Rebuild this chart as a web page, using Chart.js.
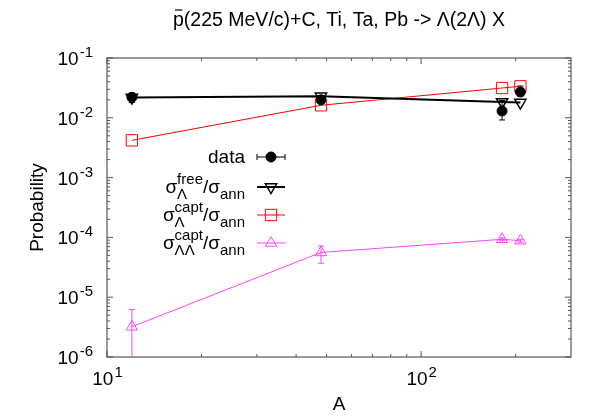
<!DOCTYPE html>
<html><head><meta charset="utf-8">
<script src="https://cdn.jsdelivr.net/npm/chart.js@4.4.0/dist/chart.umd.min.js"></script>
<style>html,body{margin:0;padding:0;background:#fff}canvas{display:block}</style>
</head><body>
<canvas id="c" width="600" height="420"></canvas>
<script>
// ---- data ----
const massNumbers = [12, 48, 181, 207];
const dataVals  = [0.022, 0.020, 0.013, 0.027];
const dataLow   = [0.018, 0.018, 0.0092, 0.023];
const dataHigh  = [0.026, 0.022, 0.0195, 0.034];
const freeVals  = [0.0218, 0.0229, 0.0184, 0.0180];
const captVals  = [0.0042, 0.0162, 0.0315, 0.0336];
const captLLVals = [3.2e-6, 5.6e-5, 9.3e-5, 8.8e-5];
const captLLLow  = [5e-7, 3.7e-5, 8.8e-5, 8.3e-5];
const captLLHigh = [6.2e-6, 7.2e-5, 9.8e-5, 9.3e-5];
const xMajorTicks = [10, 100];
const xTickExp = ['1', '2'];
const yMajorTicks = [1e-6, 1e-5, 1e-4, 1e-3, 1e-2, 1e-1];
const yTickExp = ['-6', '-5', '-4', '-3', '-2', '-1'];
const titleText = 'p(225 MeV/c)+C, Ti, Ta, Pb -> \u039B(2\u039B) X'; // leading p carries a bar (p̄), drawn as an overline
const xTitle = 'A';
const yTitle = 'Probability';
const legendMain = ['data', '\u03C3', '\u03C3', '\u03C3'];
const legendSup = ['', 'free', 'capt', 'capt'];
const legendSub = ['', '\u039B', '\u039B', '\u039B\u039B'];
const legendTail = ['', '/\u03C3', '/\u03C3', '/\u03C3'];
const legendTailSub = ['', 'ann', 'ann', 'ann'];

const FONT = '"Liberation Sans", Arial, sans-serif';
const MAIN = 19, SCRIPT = 15, TITLE = 19.5;
const MAGENTA = '#ff44ff';

const pts = vals => massNumbers.map((a, i) => ({x: a, y: vals[i]}));

const errorBars = [
  {ds: 0, lo: dataLow, hi: dataHigh, color: '#000', width: 1},
  {ds: 3, lo: captLLLow, hi: captLLHigh, color: MAGENTA, width: 1}
];

const errorBarPlugin = {
  id: 'errbars',
  beforeDatasetsDraw(chart) {
    const {ctx, chartArea: ca, scales: {y}} = chart;
    ctx.save();
    ctx.beginPath(); ctx.rect(ca.left, ca.top, ca.right - ca.left, ca.bottom - ca.top); ctx.clip();
    errorBars.forEach(eb => {
      const meta = chart.getDatasetMeta(eb.ds);
      ctx.strokeStyle = eb.color; ctx.lineWidth = eb.width;
      meta.data.forEach((p, i) => {
        const y1 = y.getPixelForValue(eb.lo[i]);
        const y2 = y.getPixelForValue(eb.hi[i]);
        ctx.beginPath();
        ctx.moveTo(p.x, y1); ctx.lineTo(p.x, y2);
        ctx.moveTo(p.x - 3, y1); ctx.lineTo(p.x + 3, y1);
        ctx.moveTo(p.x - 3, y2); ctx.lineTo(p.x + 3, y2);
        ctx.stroke();
      });
    });
    ctx.restore();
  }
};

function drawPow(ctx, base, exp, x, y, align) {
  ctx.font = MAIN + 'px ' + FONT;
  const wb = ctx.measureText(base).width;
  ctx.font = SCRIPT + 'px ' + FONT;
  const we = ctx.measureText(exp).width;
  const total = wb + we;
  const left = align === 'right' ? x - total : align === 'center' ? x - total / 2 : x;
  ctx.textAlign = 'left'; ctx.textBaseline = 'alphabetic';
  ctx.font = MAIN + 'px ' + FONT;
  ctx.fillText(base, left, y);
  ctx.font = SCRIPT + 'px ' + FONT;
  ctx.fillText(exp, left + wb + 1, y - 8);
}

function drawRich(ctx, i, right, y) {
  ctx.font = MAIN + 'px ' + FONT;
  const w1 = ctx.measureText(legendMain[i]).width;
  ctx.font = SCRIPT + 'px ' + FONT;
  const w2 = Math.max(ctx.measureText(legendSup[i]).width, ctx.measureText(legendSub[i]).width);
  ctx.font = MAIN + 'px ' + FONT;
  const w3 = ctx.measureText(legendTail[i]).width;
  ctx.font = SCRIPT + 'px ' + FONT;
  const w4 = ctx.measureText(legendTailSub[i]).width;
  let x = right - (w1 + w2 + w3 + w4);
  ctx.textAlign = 'left'; ctx.textBaseline = 'alphabetic'; ctx.fillStyle = '#000';
  ctx.font = MAIN + 'px ' + FONT;
  ctx.fillText(legendMain[i], x, y); x += w1;
  ctx.font = SCRIPT + 'px ' + FONT;
  if (legendSup[i]) ctx.fillText(legendSup[i], x, y - 9);
  if (legendSub[i]) ctx.fillText(legendSub[i], x, y + 6);
  x += w2;
  ctx.font = MAIN + 'px ' + FONT;
  ctx.fillText(legendTail[i], x, y); x += w3;
  ctx.font = SCRIPT + 'px ' + FONT;
  if (legendTailSub[i]) ctx.fillText(legendTailSub[i], x, y + 6);
}

const decorPlugin = {
  id: 'decor',
  afterDraw(chart) {
    const {ctx, chartArea: ca, scales: {x, y}} = chart;
    ctx.save();
    // frame
    ctx.strokeStyle = '#7a7a7a'; ctx.lineWidth = 1.5;
    ctx.strokeRect(ca.left, ca.top, ca.right - ca.left, ca.bottom - ca.top);
    // ticks (inward, mirrored)
    ctx.strokeStyle = '#555'; ctx.lineWidth = 1;
    ctx.beginPath();
    yMajorTicks.forEach((v, k) => {
      const py = y.getPixelForValue(v);
      ctx.moveTo(ca.left, py); ctx.lineTo(ca.left + 6, py);
      ctx.moveTo(ca.right, py); ctx.lineTo(ca.right - 6, py);
      if (k < yMajorTicks.length - 1) {
        for (let m = 2; m <= 9; m++) {
          const pm = y.getPixelForValue(v * m);
          ctx.moveTo(ca.left, pm); ctx.lineTo(ca.left + 3, pm);
          ctx.moveTo(ca.right, pm); ctx.lineTo(ca.right - 3, pm);
        }
      }
    });
    xMajorTicks.forEach(v => {
      const px = x.getPixelForValue(v);
      ctx.moveTo(px, ca.bottom); ctx.lineTo(px, ca.bottom - 6);
      ctx.moveTo(px, ca.top); ctx.lineTo(px, ca.top + 6);
      for (let m = 2; m <= 9; m++) {
        const vm = v * m;
        if (vm >= x.max) break;
        const pm = x.getPixelForValue(vm);
        ctx.moveTo(pm, ca.bottom); ctx.lineTo(pm, ca.bottom - 3);
        ctx.moveTo(pm, ca.top); ctx.lineTo(pm, ca.top + 3);
      }
    });
    ctx.stroke();
    // tick labels
    ctx.fillStyle = '#000';
    yMajorTicks.forEach((v, k) => {
      drawPow(ctx, '10', yTickExp[k], ca.left - 15, y.getPixelForValue(v) + 7, 'right');
    });
    xMajorTicks.forEach((v, k) => {
      drawPow(ctx, '10', xTickExp[k], x.getPixelForValue(v), ca.bottom + 28, 'center');
    });
    // axis titles
    ctx.font = MAIN + 'px ' + FONT;
    ctx.textAlign = 'center'; ctx.textBaseline = 'middle';
    ctx.fillText(xTitle, (ca.left + ca.right) / 2, 405);
    ctx.save();
    ctx.translate(38, (ca.top + ca.bottom) / 2);
    ctx.rotate(-Math.PI / 2);
    ctx.fillText(yTitle, 0, 0);
    ctx.restore();
    // title with overline on the leading p (antiproton)
    ctx.font = TITLE + 'px ' + FONT;
    ctx.textAlign = 'left'; ctx.textBaseline = 'alphabetic';
    const tw = ctx.measureText(titleText).width;
    const tx = (ca.left + ca.right) / 2 - tw / 2;
    const tBase = 26;
    ctx.fillText(titleText, tx, tBase);
    const pw = ctx.measureText('p').width;
    ctx.strokeStyle = '#000'; ctx.lineWidth = 1.2;
    ctx.beginPath(); ctx.moveTo(tx + 2, tBase - 16); ctx.lineTo(tx + pw - 1.5, tBase - 16); ctx.stroke();
    // legend
    const rowsY = [157, 187, 215, 243];
    const sx1 = 257, sx2 = 285, sxm = 271;
    chart.data.datasets.forEach((ds, i) => {
      const ry = rowsY[i];
      drawRich(ctx, i, 245, ry + 6);
      ctx.save();
      if (i === 0) {
        ctx.strokeStyle = '#000'; ctx.lineWidth = 1;
        ctx.beginPath();
        ctx.moveTo(sx1, ry); ctx.lineTo(sx2, ry);
        ctx.moveTo(sx1, ry - 3); ctx.lineTo(sx1, ry + 3);
        ctx.moveTo(sx2, ry - 3); ctx.lineTo(sx2, ry + 3);
        ctx.stroke();
      } else {
        ctx.strokeStyle = ds.borderColor; ctx.lineWidth = ds.borderWidth;
        ctx.beginPath(); ctx.moveTo(sx1, ry); ctx.lineTo(sx2, ry); ctx.stroke();
      }
      ctx.fillStyle = ds.pointBackgroundColor;
      ctx.strokeStyle = ds.pointBorderColor;
      ctx.lineWidth = ds.pointBorderWidth || 1;
      Chart.helpers.drawPoint(ctx, {
        pointStyle: ds.pointStyle, rotation: ds.pointRotation || 0,
        radius: ds.pointRadius, borderWidth: ds.pointBorderWidth || 1
      }, sxm, ry);
      ctx.restore();
    });
    ctx.restore();
  }
};

new Chart(document.getElementById('c'), {
  type: 'line',
  data: {
    datasets: [
      {label: 'data', data: pts(dataVals), showLine: false, pointStyle: 'circle', pointRadius: 5,
       pointBackgroundColor: '#000', pointBorderColor: '#000', pointBorderWidth: 1, borderColor: '#000', borderWidth: 1, order: 0},
      {label: 'free', data: pts(freeVals), borderColor: '#000', borderWidth: 2, pointStyle: 'triangle', pointRotation: 180,
       pointRadius: 6.5, pointBackgroundColor: 'rgba(0,0,0,0)', pointBorderColor: '#000', pointBorderWidth: 1.5, order: 1},
      {label: 'capt', data: pts(captVals), borderColor: '#ff0000', borderWidth: 1, pointStyle: 'rect',
       pointRadius: 8, pointBackgroundColor: 'rgba(0,0,0,0)', pointBorderColor: '#ff0000', pointBorderWidth: 1, order: 2},
      {label: 'captLL', data: pts(captLLVals), borderColor: MAGENTA, borderWidth: 1, pointStyle: 'triangle',
       pointRadius: 6.5, pointBackgroundColor: 'rgba(0,0,0,0)', pointBorderColor: MAGENTA, pointBorderWidth: 1, order: 3}
    ]
  },
  options: {
    responsive: false, animation: false,
    layout: {padding: {left: 0, right: 29, top: 58, bottom: 0}},
    elements: {line: {tension: 0}},
    scales: {
      x: {type: 'logarithmic', min: 10, max: 300, grid: {display: false}, border: {display: false},
          ticks: {display: false}, afterFit(s) { s.height = 63; }},
      y: {type: 'logarithmic', min: 1e-6, max: 1e-1, grid: {display: false}, border: {display: false},
          ticks: {display: false}, afterFit(s) { s.width = 107; }}
    },
    plugins: {legend: {display: false}, title: {display: false}, tooltip: {enabled: false}}
  },
  plugins: [errorBarPlugin, decorPlugin]
});
</script>
</body></html>
